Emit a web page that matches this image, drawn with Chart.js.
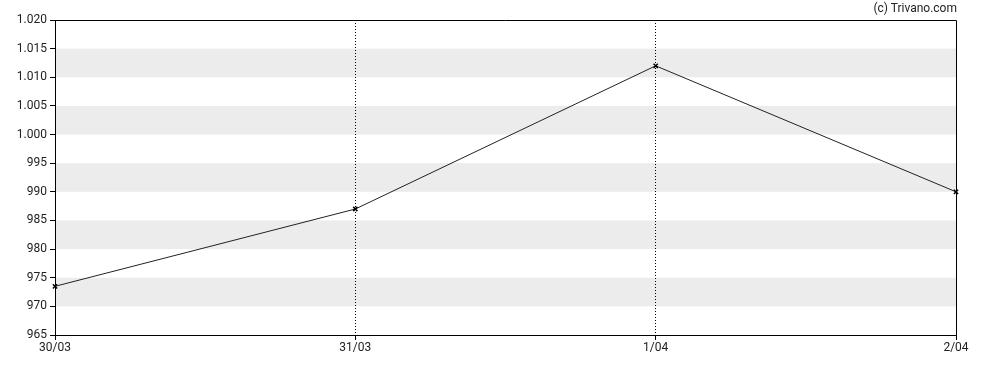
<!DOCTYPE html>
<html>
<head>
<meta charset="utf-8">
<script src="https://cdn.jsdelivr.net/npm/chart.js@4/dist/chart.umd.min.js"></script>
<style>
  html, body { margin: 0; padding: 0; background: #fff; }
  #wrap { position: relative; width: 988px; height: 370px; }
  #credit { position: absolute; right: 31px; top: 1px; font: 12px Roboto, sans-serif; color: #222; }
</style>
</head>
<body>
<div id="wrap">
  <canvas id="c" width="988" height="370"></canvas>
  <div id="credit">(c) Trivano.com</div>
</div>
<script>
const categories = ["30/03", "31/03", "1/04", "2/04"];
const prices = [973.5, 987, 1012, 990];
const yMin = 965, yMax = 1020, yStep = 5;
const bandStarts = [970, 980, 990, 1000, 1010];

const bandsAndFrame = {
  id: 'bandsAndFrame',
  beforeDraw(chart) {
    const { ctx, chartArea: a, scales: { y } } = chart;
    ctx.save();
    ctx.fillStyle = '#ececec';
    bandStarts.forEach(v => {
      const top = y.getPixelForValue(v + yStep);
      const bot = y.getPixelForValue(v);
      ctx.fillRect(a.left, top, a.right - a.left, bot - top);
    });
    ctx.restore();
  },
  afterDraw(chart) {
    const { ctx, chartArea: a } = chart;
    ctx.save();
    ctx.strokeStyle = '#000';
    ctx.lineWidth = 1;
    ctx.beginPath();
    ctx.moveTo(a.left, a.top + 0.5);
    ctx.lineTo(a.right + 0.5, a.top + 0.5);
    ctx.lineTo(a.right + 0.5, a.bottom);
    ctx.stroke();
    ctx.restore();
  }
};

const lastIdx = categories.length - 1;
new Chart(document.getElementById('c'), {
  type: 'line',
  data: {
    labels: categories,
    datasets: [{
      data: prices,
      borderColor: '#222',
      borderWidth: 1,
      tension: 0,
      pointStyle: 'crossRot',
      pointRadius: 3,
      pointBorderColor: '#000',
      pointBorderWidth: 1.5,
      fill: false
    }]
  },
  options: {
    responsive: false,
    animation: false,
    layout: { padding: { left: 0, right: 32, top: 20, bottom: 0 } },
    plugins: { legend: { display: false }, tooltip: { enabled: false } },
    scales: {
      x: {
        type: 'category',
        offset: false,
        grid: {
          color: ctx => (ctx.index === 0 || ctx.index === lastIdx) ? 'rgba(0,0,0,0)' : '#000',
          lineWidth: 1,
          tickColor: '#000',
          tickLength: 5,
          drawOnChartArea: true
        },
        border: { display: true, color: '#000', width: 1, dash: [1, 2] },
        ticks: { color: '#222', font: { family: 'Roboto', size: 12 }, padding: 1, maxRotation: 0, autoSkip: false },
        afterFit(s) { s.height = 35; }
      },
      y: {
        min: yMin, max: yMax,
        grid: { color: 'rgba(0,0,0,0)', tickColor: '#000', tickLength: 5 },
        border: { display: true, color: '#000', width: 1 },
        ticks: {
          stepSize: yStep,
          color: '#222',
          font: { family: 'Roboto', size: 12 },
          padding: 3,
          callback: v => v.toLocaleString('de-DE', { minimumFractionDigits: 0, maximumFractionDigits: 0 })
        },
        afterFit(s) { s.width = 55; }
      }
    }
  },
  plugins: [bandsAndFrame]
});
</script>
</body>
</html>
